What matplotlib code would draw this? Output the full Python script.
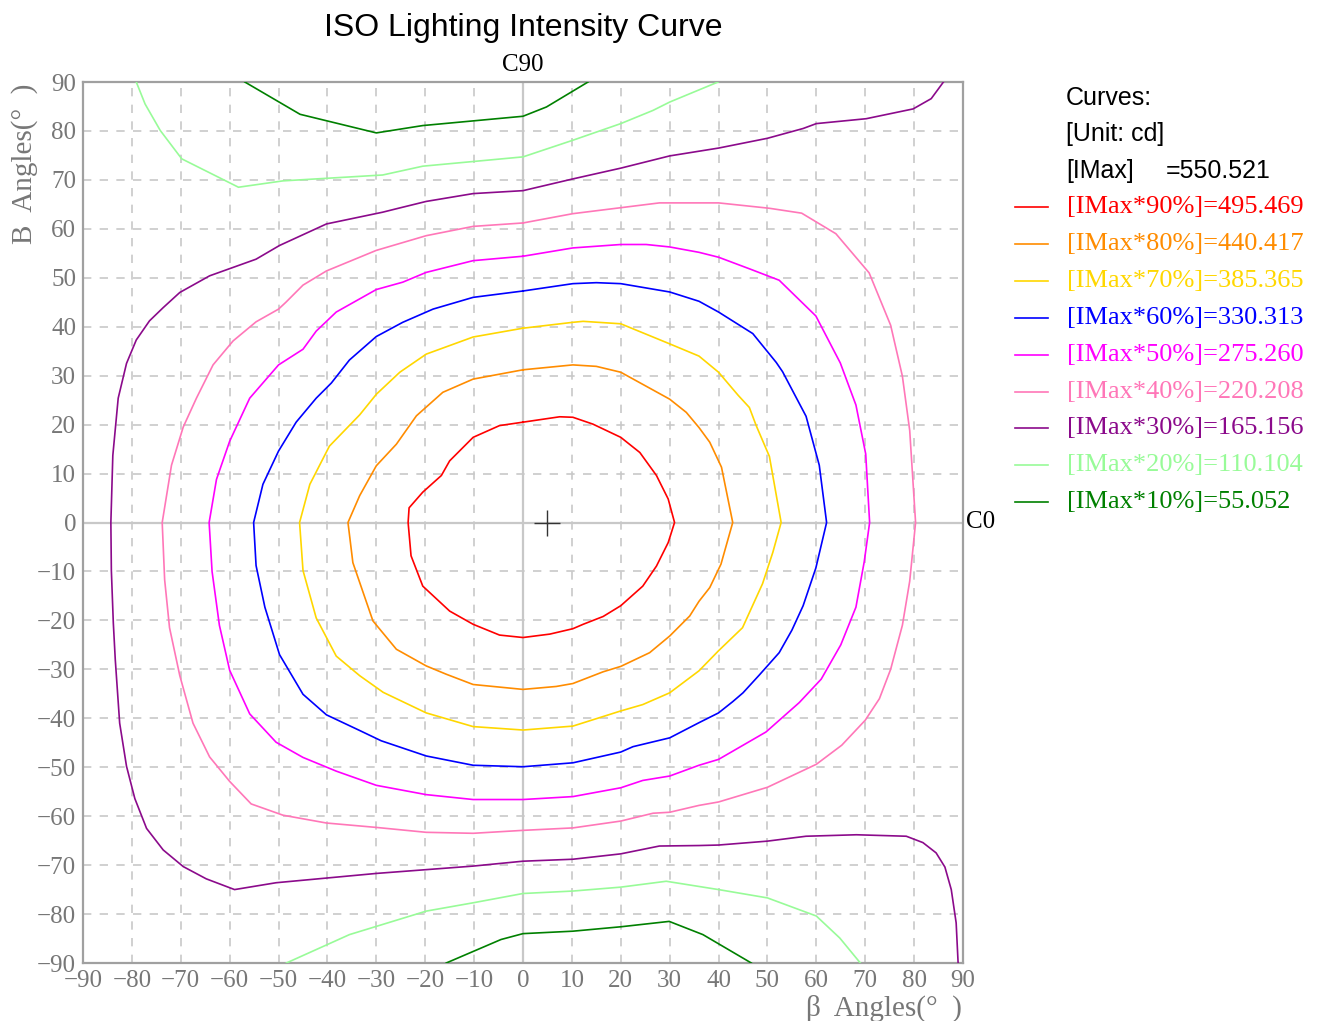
import numpy as np
import matplotlib
matplotlib.use("Agg")
import matplotlib.pyplot as plt
from matplotlib.lines import Line2D

# --- data: iso-candela curves as (beta, B) points ---
imax = "550.521"
percents = [90, 80, 70, 60, 50, 40, 30, 20, 10]
values = ["495.469", "440.417", "385.365", "330.313", "275.260",
          "220.208", "165.156", "110.104", "55.052"]
colors = ["#ff0000", "#ff8c00", "#ffd700", "#0000ff", "#ff00ff",
          "#ff77b8", "#8b0a8b", "#98fb98", "#008000"]

red_pts = [(0, 20.5), (-4.8, 19.8), (-10.2, 17.4), (-15, 12.6), (-16.7, 9.6), (-20.5, 6.2), (-23.3, 3),
           (-23.5, 0), (-22.9, -6.8), (-20.5, -13), (-15, -18.1), (-10.2, -20.8), (-4.8, -23), (0, -23.5),
           (5.5, -22.8), (10.2, -21.7), (12.3, -20.8), (16.4, -19.2), (20, -17), (24.5, -13), (27.3, -8.9),
           (29.7, -4.1), (31, 0), (29.7, 4.8), (27.3, 9.6), (23.9, 14.3), (20, 17.4), (14.3, 20.1),
           (10.2, 21.5), (7.5, 21.6), (0, 20.5)]

orange_pts = [(0, 31.2), (-10.2, 29.3), (-16.4, 26.6), (-21.8, 21.8), (-25.9, 16.0), (-30, 11.6),
              (-33.4, 5.5), (-35.8, 0), (-34.8, -8.2), (-30.7, -20.1), (-25.9, -25.9), (-19.8, -29.3),
              (-15.7, -31), (-10.2, -33.1), (0, -34.1), (6.8, -33.5), (10.2, -32.9), (16.4, -30.5),
              (20, -29.4), (25.9, -26.6), (30, -23.2), (34.1, -19.1), (36, -16.1), (38.2, -13.3),
              (40.5, -8.5), (42.9, 0), (40.6, 11.3), (38.2, 16.4), (36, 19.4), (33.4, 22.5), (30, 25.2),
              (20, 30.7), (15, 31.9), (10.2, 32.2), (0, 31.2)]

yellow_pts = [(0, 39.7), (-10.2, 37.9), (-19.8, 34.4), (-25.2, 30.7), (-30, 26.2), (-33.4, 22.0),
              (-39.6, 15.6), (-43.6, 7.8), (-45.7, 0), (-45, -9.8), (-42.3, -19.5), (-38.2, -27.3),
              (-33.4, -31.3), (-28.6, -34.7), (-19.8, -38.9), (-10.2, -41.7), (0, -42.4), (10.2, -41.6),
              (20, -38.5), (24.5, -37.2), (30, -34.8), (36, -30.3), (40, -26.2), (44.9, -21.5),
              (49, -12.5), (51.1, -6.1), (52.8, 0), (50.4, 13.5), (47.7, 19.8), (46.3, 23.5), (44, 26),
              (40, 30.7), (36, 34), (30, 36.5), (20, 40.6), (12.3, 41.1), (10.2, 40.9), (0, 39.7)]

blue_pts = [(0, 47.3), (-10.2, 46.0), (-18.4, 43.6), (-24.6, 40.9), (-30, 38), (-35.5, 33.2),
            (-39.2, 28.5), (-42.3, 25.4), (-46.4, 20.5), (-50, 14.6), (-53.2, 7.8), (-55.1, 0),
            (-54.6, -8.8), (-52.8, -17.3), (-49.8, -27), (-45, -35.1), (-40.2, -39.3), (-33.4, -42.5),
            (-29, -44.6), (-19.8, -47.7), (-10.2, -49.6), (0, -49.9), (10.2, -49.1), (20, -46.9),
            (22.5, -45.8), (30, -44), (36, -40.9), (40, -38.9), (42.9, -36.6), (45, -34.8),
            (48.3, -31.2), (52.4, -26.6), (55, -22), (57.3, -17), (59.9, -9.3), (62.1, 0),
            (60.6, 11.7), (57.9, 21.7), (53.1, 30.8), (51.8, 32.7), (47, 38.6), (40, 43), (36, 45.2),
            (30, 47.1), (20, 48.8), (15, 49.0), (10.2, 48.8), (0, 47.3)]

magenta_pts = [(0, 54.4), (-10.2, 53.5), (-19.8, 51.1), (-24.6, 49.1), (-30, 47.6), (-38.2, 43.0),
               (-42.3, 39.1), (-45, 35.4), (-50, 32.2), (-55.9, 25.4), (-60, 16.6), (-62.7, 8.8),
               (-64.2, 0), (-63.6, -10), (-62.1, -21), (-60, -30.2), (-55.9, -39.1), (-50.5, -44.9),
               (-45, -48), (-38.2, -50.8), (-30, -53.7), (-19.8, -55.6), (-10.2, -56.6), (0, -56.6),
               (10.2, -56), (20, -54.2), (24.5, -52.7), (30, -51.8), (36, -49.6), (40, -48.4),
               (49.7, -42.8), (56.5, -36.8), (61, -32), (65.0, -25.0), (68.1, -17.3), (69.8, -8),
               (70.9, 0), (70.1, 14), (68.1, 24), (64.9, 32.6), (59.9, 42.2), (52.4, 49.5),
               (46.4, 51.8), (40, 54.2), (36, 55.2), (30, 56.3), (25.2, 56.8), (20, 56.8), (10.2, 56.1),
               (0, 54.4)]

pink_pts = [(0, 61.2), (-10.2, 60.5), (-19.8, 58.6), (-26.6, 56.6), (-30, 55.6), (-40.2, 51.4),
            (-45, 48.5), (-48.5, 45), (-50, 43.6), (-54.6, 41.0), (-59.3, 37.1), (-63.4, 32.2),
            (-66.8, 25.4), (-69.5, 19.5), (-71.9, 11.7), (-73.8, 0), (-73.3, -11.7), (-72.3, -21.5),
            (-70.2, -31.3), (-67.5, -41.0), (-64.1, -47.9), (-60, -52.9), (-55.6, -57.5), (-49.1, -59.8),
            (-40.2, -61.4), (-30, -62.3), (-19.8, -63.3), (-10.2, -63.5), (0, -62.9), (10.2, -62.4),
            (20, -61), (26.6, -59.4), (30, -59.2), (36, -57.8), (40, -57.1), (50, -54.1), (60, -49.4),
            (65.2, -45.5), (70, -40.4), (72.9, -36), (75.2, -30), (77.6, -21), (79.1, -12), (80.3, 0),
            (79.1, 18.8), (77.6, 29.9), (75.2, 40.3), (70.8, 51), (64, 59.0), (57, 63.2), (50.4, 64.2),
            (40, 65.3), (27.9, 65.3), (10.2, 63.1), (0, 61.2)]

purple_pts = [(86, 90), (83.5, 86.6), (79.8, 84.5), (70.2, 82.5), (60, 81.5), (57.3, 80.5), (50, 78.5),
              (40, 76.5), (30, 74.9), (20, 72.4), (10.2, 70.2), (0, 67.8), (-10.2, 67.2), (-19.8, 65.6),
              (-25.9, 64.1), (-28.7, 63.4), (-40.2, 61.0), (-49.8, 56.6), (-54.6, 53.8), (-64.1, 50.4),
              (-70.2, 47.0), (-73.6, 43.9), (-76.4, 41.2), (-79.1, 37.3), (-81.1, 32.5), (-82.8, 25.4),
              (-83.9, 13.7), (-84.3, 0), (-84.2, -9.8), (-83.8, -20.5), (-83.4, -28), (-82.5, -41.0),
              (-81.1, -49.8), (-79.4, -56.4), (-77, -62.5), (-73.6, -66.9), (-69.5, -70.3),
              (-64.8, -72.8), (-59, -75.0), (-50.5, -73.6), (-30, -71.7), (-10.2, -70.2), (0, -69.2),
              (10.2, -68.8), (20, -67.7), (27.9, -66.1), (36, -66.0), (40, -65.9), (50, -65.1),
              (57.9, -64.1), (68.2, -63.8), (78.4, -64.1), (81.8, -65.4), (84.5, -67.5), (86.3, -70.4),
              (87.6, -75), (88.6, -81.8), (89, -90)]

lgreen_top = [(-79.1, 90), (-77.3, 85.5), (-74.2, 80.1), (-69.8, 74.3), (-58.2, 68.5), (-49.1, 69.8),
              (-28.7, 71.0), (-20.5, 72.8), (0, 74.7), (10.2, 78.1), (20, 81.5), (26.6, 84.2), (30, 85.9),
              (39.9, 90)]
lgreen_bot = [(-48.4, -90), (-35.5, -84.2), (-19.8, -79.4), (-10.2, -77.7), (0, -75.8), (10.2, -75.3),
              (20, -74.5), (29.3, -73.3), (40, -75), (50, -76.7), (60, -80.4), (64.8, -84.9), (69, -90)]

dgreen_top = [(-56.9, 90), (-45.6, 83.4), (-30, 79.6), (-20.5, 81.1), (0, 83.0), (4.8, 84.9), (13.3, 90)]
dgreen_bot = [(-15.7, -90), (-4.5, -85.2), (0, -84), (10.2, -83.5), (20, -82.6), (29.9, -81.5),
              (36.8, -84.2), (46.7, -90)]

centre = (5, 0)

curves = [[red_pts], [orange_pts], [yellow_pts], [blue_pts], [magenta_pts], [pink_pts],
          [purple_pts], [lgreen_top, lgreen_bot], [dgreen_top, dgreen_bot]]

SERIF = "Liberation Serif"
SANS = "Liberation Sans"
GREY = "#777777"

fig = plt.figure(figsize=(13.19, 10.21), dpi=100)
ax = fig.add_axes([83 / 1319, 58 / 1021, 880 / 1319, 881 / 1021])

ticks = np.arange(-90, 91, 10)
ax.set_xlim(-90, 90)
ax.set_ylim(-90, 90)
ax.set_xticks(ticks)
ax.set_yticks(ticks)
ax.tick_params(length=0, pad=5, labelsize=18, labelcolor=GREY)
for lab in ax.get_xticklabels() + ax.get_yticklabels():
    lab.set_fontfamily(SERIF)

# dashed grid, solid zero axes
for t in ticks:
    if t in (-90, 0, 90):
        continue
    ax.axvline(t, color="#c8c8c8", lw=1.2, ls=(0, (5, 5)), zorder=0)
    ax.axhline(t, color="#c8c8c8", lw=1.2, ls=(0, (5, 5)), zorder=0)
ax.axvline(0, color="#c8c8c8", lw=1.6, zorder=0)
ax.axhline(0, color="#c8c8c8", lw=1.6, zorder=0)
for sp in ax.spines.values():
    sp.set_color("#a0a0a0")
    sp.set_linewidth(1.6)

for segs, c in zip(curves, colors):
    for pts in segs:
        xs, ys = zip(*pts)
        ax.plot(xs, ys, color=c, lw=1.2, zorder=3, solid_joinstyle="round")

ax.plot([centre[0]], [centre[1]], marker="+", ms=19, mew=1.0, color="#333333", zorder=4)

# titles / labels
fig.text(523 / 1319, 1 - 28 / 1021, "ISO Lighting Intensity Curve", family=SANS,
         fontsize=23, ha="center", va="center")
fig.text(523 / 1319, 1 - 65 / 1021, "C90", family=SERIF, fontsize=18, ha="center", va="center")
fig.text(966 / 1319, 1 - 522 / 1021, "C0", family=SERIF, fontsize=18, ha="left", va="center")
fig.text(25 / 1319, 1 - 84 / 1021, "B  Angles(°  )", family=SERIF, fontsize=21, color=GREY,
         rotation=90, ha="center", va="top")
fig.text(962 / 1319, 1 - 1008 / 1021, "β  Angles(°  )", family=SERIF, fontsize=21, color=GREY,
         ha="right", va="center")

# legend block
fig.text(1066 / 1319, 1 - 98 / 1021, "Curves:", family=SANS, fontsize=18, va="center")
fig.text(1066 / 1319, 1 - 134 / 1021, "[Unit: cd]", family=SANS, fontsize=18, va="center")
fig.text(1066 / 1319, 1 - 171 / 1021, "[IMax]", family=SANS, fontsize=18, va="center")
fig.text(1166 / 1319, 1 - 171 / 1021, "=" + imax, family=SANS, fontsize=18, va="center")
for i, (p, v, c) in enumerate(zip(percents, values, colors)):
    yy = 1 - (207 + i * 36.9) / 1021
    fig.add_artist(Line2D([1015 / 1319, 1048 / 1319], [yy, yy], color=c, lw=1.2,
                          transform=fig.transFigure))
    fig.text(1067 / 1319, yy, f"[IMax*{p}%]={v}", family=SERIF, fontsize=19,
             color=c, va="center")

fig.savefig("out.png", dpi=100)
